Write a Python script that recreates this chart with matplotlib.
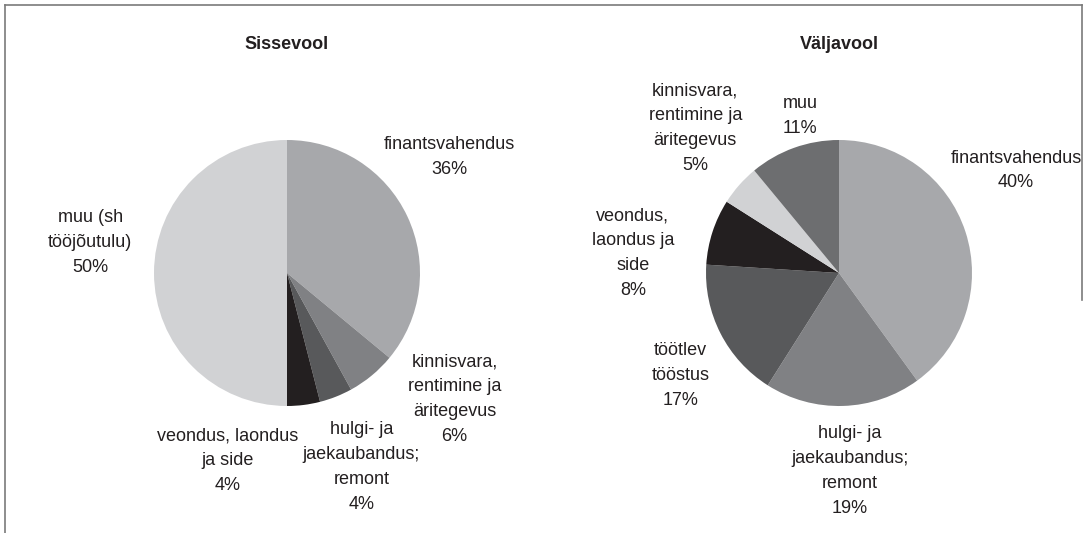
import matplotlib.pyplot as plt
from matplotlib.lines import Line2D

# Data
in_labels = ['finantsvahendus', 'kinnisvara,\nrentimine ja\näritegevus',
             'hulgi- ja\njaekaubandus;\nremont', 'veondus, laondus\nja side',
             'muu (sh\ntööjõutulu)']
in_values = [36, 6, 4, 4, 50]
in_colors = ['#a7a8ab', '#808184', '#58595b', '#231f20', '#d1d2d4']

out_labels = ['finantsvahendus', 'hulgi- ja\njaekaubandus;\nremont',
              'töötlev\ntööstus', 'veondus,\nlaondus ja\nside',
              'kinnisvara,\nrentimine ja\näritegevus', 'muu']
out_values = [40, 19, 17, 8, 5, 11]
out_colors = ['#a7a8ab', '#808184', '#58595b', '#231f20', '#d1d2d4', '#6d6e70']

# label positions (in pie radius units)
in_label_pos = [(1.22, 0.87), (1.26, -0.95), (0.56, -1.46), (-0.45, -1.41), (-1.48, 0.23)]
out_label_pos = [(1.33, 0.77), (0.08, -1.49), (-1.19, -0.77), (-1.55, 0.15),
                 (-1.08, 1.09), (-0.29, 1.18)]

W, H = 1085, 533
TEXT = '#231f20'
plt.rcParams['font.family'] = ['Liberation Sans', 'DejaVu Sans']

fig = plt.figure(figsize=(W / 100, H / 100), dpi=100)


def draw_pie(cx, cy, r, title, labels, values, colors, pos):
    ax = fig.add_axes([(cx - r) / W, (H - cy - r) / H, 2 * r / W, 2 * r / H])
    ax.pie(values, colors=colors, startangle=90, counterclock=False,
           wedgeprops=dict(linewidth=0))
    ax.set_xlim(-1, 1)
    ax.set_ylim(-1, 1)
    ax.set_aspect('equal')
    for lab, v, (x, y) in zip(labels, values, pos):
        ax.text(x, y, f'{lab}\n{v}%', ha='center', va='center', fontsize=13,
                color=TEXT, linespacing=1.6)
    fig.text(cx / W, 1 - 45 / H, title, ha='center', va='center',
             fontsize=13, fontweight='bold', color=TEXT,
             family=['Liberation Sans Narrow', 'Liberation Sans'])


draw_pie(287, 273, 133, 'Sissevool', in_labels, in_values, in_colors, in_label_pos)
draw_pie(839, 273, 133, 'Väljavool', out_labels, out_values, out_colors, out_label_pos)

# frame lines
frame = dict(color='#7a7a7a', linewidth=1.2, transform=fig.transFigure)
fig.add_artist(Line2D([5 / W, 1082 / W], [1 - 5 / H, 1 - 5 / H], **frame))
fig.add_artist(Line2D([5 / W, 5 / W], [0, 1 - 5 / H], **frame))
fig.add_artist(Line2D([1082 / W, 1082 / W], [1 - 300 / H, 1 - 5 / H], **frame))

fig.savefig('out.png', dpi=100)
